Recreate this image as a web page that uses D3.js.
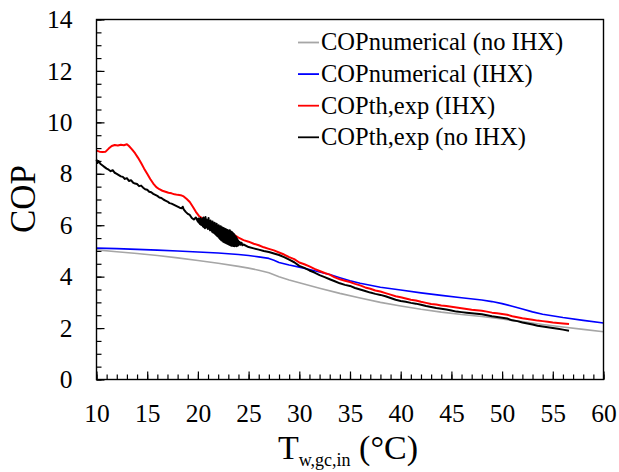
<!DOCTYPE html>
<html><head><meta charset="utf-8">
<script src="https://cdn.jsdelivr.net/npm/d3@7"></script>
<style>
html,body{margin:0;padding:0;background:#fff;}
</style></head>
<body>
<svg id="chart" width="619" height="472"></svg>
<script>
// ---- data ----
const xTickLabels = [10,15,20,25,30,35,40,45,50,55,60];
const yTickLabels = [0,2,4,6,8,10,12,14];
const seriesNames = ["COPnumerical (no IHX)","COPnumerical (IHX)","COPth,exp (IHX)","COPth,exp (no IHX)"];
const seriesColors = ["#a6a6a6","#0000ff","#ff0000","#000000"];

const numNoIHX = [[10,5.04],[12,4.97],[14,4.90],[16,4.82],[18,4.73],[20,4.63],[22,4.52],[24,4.40],[25,4.33],[26,4.25],[27,4.15],[28,4.00],[29,3.87],[30,3.76],[32,3.55],[34,3.35],[36,3.17],[38,3.00],[40,2.86],[42,2.73],[44,2.62],[46,2.53],[48,2.45],[50,2.35],[52,2.25],[54,2.14],[56,2.04],[58,1.95],[60,1.86]];

const numIHX = [[10,5.11],[12,5.09],[14,5.06],[16,5.03],[18,5.00],[20,4.96],[22,4.92],[24,4.86],[25,4.82],[26,4.77],[27,4.71],[27.5,4.64],[28,4.55],[29,4.45],[30,4.37],[31,4.28],[32,4.18],[33,4.08],[34,3.96],[35,3.84],[36,3.74],[38,3.59],[40,3.48],[42,3.37],[44,3.27],[46,3.18],[48,3.09],[49,3.03],[50,2.95],[51,2.85],[52,2.74],[53,2.63],[54,2.54],[56,2.41],[58,2.30],[60,2.20]];

const expIHX = [[10.0,8.90],[10.3,8.86],[10.6,8.85],[10.9,8.86],[11.2,8.98],[11.5,9.08],[11.8,9.12],[12.1,9.10],[12.4,9.13],[12.7,9.11],[13.0,9.15],[13.2,9.08],[13.5,8.95],[13.8,8.80],[14.1,8.62],[14.4,8.42],[14.7,8.20],[15.0,8.00],[15.3,7.80],[15.6,7.62],[15.9,7.48],[16.2,7.40],[16.5,7.34],[16.8,7.30],[17.1,7.26],[17.4,7.24],[17.7,7.20],[18.0,7.18],[18.3,7.17],[18.6,7.12],[18.9,7.02],[19.2,6.90],[19.5,6.72],[19.8,6.52],[20.1,6.36],[20.4,6.28],[20.7,6.20],[21.0,6.10],[21.5,6.00],[22.0,5.90],[22.5,5.80],[23.0,5.72],[23.5,5.64],[24.0,5.52],[24.5,5.42],[25.0,5.36],[25.5,5.28],[26.0,5.22],[26.5,5.14],[27.0,5.08],[27.5,5.02],[28.0,4.94],[28.5,4.86],[29.0,4.76],[29.5,4.68],[30.0,4.55],[30.5,4.48],[31.0,4.40],[31.5,4.30],[32.0,4.22],[32.5,4.14],[33.0,4.08],[33.5,3.97],[34.0,3.90],[34.5,3.84],[35.0,3.79],[35.5,3.72],[36.0,3.66],[36.5,3.58],[37.0,3.53],[37.5,3.46],[38.0,3.42],[38.5,3.36],[39.0,3.30],[39.5,3.24],[40.0,3.20],[40.5,3.15],[41.0,3.10],[41.5,3.07],[42.0,3.02],[42.5,2.98],[43.0,2.94],[43.5,2.92],[44.0,2.88],[44.5,2.86],[45.0,2.83],[45.5,2.80],[46.0,2.77],[46.5,2.74],[47.0,2.71],[47.5,2.69],[48.0,2.67],[48.5,2.64],[49.0,2.60],[49.5,2.58],[50.0,2.55],[50.5,2.52],[51.0,2.46],[51.5,2.42],[52.0,2.38],[52.5,2.35],[53.0,2.32],[53.5,2.29],[54.0,2.27],[54.5,2.25],[55.0,2.22],[55.5,2.20],[56.0,2.18],[56.6,2.16]];

const expNoIHX = [[10.0,8.55],[10.1,8.42],[10.2,8.50],[10.4,8.38],[10.6,8.32],[10.8,8.26],[11.0,8.20],[11.2,8.16],[11.4,8.10],[11.6,8.14],[11.8,8.04],[12.0,8.00],[12.2,7.95],[12.4,7.90],[12.6,7.88],[12.8,7.80],[13.0,7.83],[13.2,7.72],[13.4,7.75],[13.6,7.66],[13.8,7.62],[14.0,7.60],[14.2,7.52],[14.4,7.54],[14.6,7.46],[14.8,7.40],[15.0,7.38],[15.2,7.30],[15.4,7.28],[15.6,7.22],[15.8,7.18],[16.0,7.14],[16.2,7.08],[16.4,7.06],[16.6,7.00],[16.8,6.96],[17.0,6.92],[17.2,6.86],[17.4,6.84],[17.6,6.80],[17.8,6.76],[18.0,6.72],[18.2,6.68],[18.4,6.66],[18.5,6.72],[18.6,6.62],[18.8,6.52],[19.0,6.44],[19.2,6.40],[19.4,6.28],[19.6,6.22],[19.8,6.30],
[20.00,6.14],[20.05,6.26],[20.10,6.10],[20.15,6.24],[20.20,6.05],[20.25,6.28],[20.30,6.02],[20.35,6.20],[20.40,6.00],[20.45,6.25],[20.50,5.95],[20.55,6.30],[20.60,5.92],[20.65,6.18],[20.70,5.88],[20.75,6.32],[20.80,5.95],[20.85,6.22],[20.90,5.90],[20.95,6.15],[21.00,5.85],[21.05,6.28],[21.10,5.88],[21.15,6.12],[21.20,5.80],[21.25,6.18],[21.30,5.82],[21.35,6.08],[21.40,5.75],[21.45,6.14],[21.50,5.72],[21.55,6.05],[21.60,5.70],[21.65,6.10],[21.70,5.66],[21.75,6.02],[21.80,5.62],[21.85,6.06],[21.90,5.58],[21.95,5.98],[22.00,5.55],[22.05,6.00],[22.10,5.50],[22.15,5.95],[22.20,5.46],[22.25,5.96],[22.30,5.42],[22.35,5.92],[22.40,5.40],[22.45,5.90],[22.50,5.36],[22.55,5.88],[22.60,5.34],[22.65,5.86],[22.70,5.32],[22.75,5.84],[22.80,5.30],[22.85,5.82],[22.90,5.28],[22.95,5.80],[23.00,5.26],[23.05,5.78],[23.10,5.24],[23.15,5.80],[23.20,5.22],[23.25,5.76],[23.30,5.20],[23.35,5.74],[23.40,5.20],[23.45,5.70],[23.50,5.19],[23.55,5.66],[23.60,5.18],[23.65,5.60],[23.70,5.20],[23.75,5.55],[23.80,5.18],[23.85,5.48],[23.90,5.20],[23.95,5.42],[24.00,5.22],[24.10,5.36],[24.20,5.24],[24.30,5.32],[24.40,5.22],
[24.5,5.25],[25.0,5.15],[25.5,5.10],[26.0,5.05],[26.5,5.00],[27.0,4.96],[27.5,4.90],[28.0,4.84],[28.5,4.76],[29.0,4.66],[29.5,4.56],[30.0,4.42],[30.5,4.34],[31.0,4.24],[31.5,4.16],[32.0,4.06],[32.5,3.98],[33.0,3.90],[33.5,3.82],[34.0,3.74],[34.5,3.68],[35.0,3.64],[35.5,3.56],[36.0,3.50],[36.5,3.44],[37.0,3.38],[37.5,3.33],[38.0,3.29],[38.5,3.24],[39.0,3.17],[39.5,3.10],[40.0,3.05],[40.5,3.02],[41.0,2.98],[41.5,2.95],[42.0,2.91],[42.5,2.86],[43.0,2.82],[43.5,2.78],[44.0,2.75],[44.5,2.72],[45.0,2.68],[45.5,2.64],[46.0,2.62],[46.5,2.60],[47.0,2.58],[47.5,2.56],[48.0,2.54],[48.5,2.50],[49.0,2.46],[49.5,2.43],[50.0,2.40],[50.5,2.37],[51.0,2.30],[51.5,2.27],[52.0,2.22],[52.5,2.18],[53.0,2.14],[53.5,2.09],[54.0,2.06],[54.5,2.03],[55.0,2.00],[55.5,1.97],[56.0,1.94],[56.6,1.90]];

// ---- layout ----
const FONT = "'Liberation Serif','Times New Roman',Times,'Nimbus Roman','DejaVu Serif','Noto Serif',serif";
const svg = d3.select("#chart").style("font-family",FONT);
const L = 96.5, R = 603.5, T = 19.5, B = 379.5;
const x = d3.scaleLinear().domain([10,60]).range([L,R]);
const y = d3.scaleLinear().domain([0,14]).range([B,T]);

function styleAxis(g, fs){
  g.attr("font-family",null);
  g.select(".domain").remove();
  g.selectAll("line").attr("stroke","#000").attr("stroke-width",1.2);
  g.selectAll("text").attr("fill","#000").style("font-family",FONT).style("font-size",fs+"px");
}

// minor ticks
svg.append("g").attr("transform",`translate(0,${B})`)
  .call(d3.axisBottom(x).tickValues(d3.range(10,61,1)).tickSize(-5).tickFormat(""))
  .call(g=>styleAxis(g,25));
svg.append("g").attr("transform",`translate(${L},0)`)
  .call(d3.axisLeft(y).tickValues(d3.range(0,14.01,0.5)).tickSize(-5).tickFormat(""))
  .call(g=>styleAxis(g,25));

// major ticks + labels
svg.append("g").attr("transform",`translate(0,${B})`)
  .call(d3.axisBottom(x).tickValues(xTickLabels).tickSize(-8).tickPadding(24))
  .call(g=>styleAxis(g,25.5));
svg.append("g").attr("transform",`translate(${L},0)`)
  .call(d3.axisLeft(y).tickValues(yTickLabels).tickSize(-8).tickPadding(24))
  .call(g=>styleAxis(g,25.5));

// lines
const line = d3.line().x(d=>x(d[0])).y(d=>y(d[1]));
const allSeries = [numNoIHX, numIHX, expIHX, expNoIHX];
const widths = [1.6,1.6,2.0,2.0];
allSeries.forEach((s,i)=>{
  svg.append("path").datum(s).attr("d",line).attr("fill","none")
    .attr("stroke",seriesColors[i]).attr("stroke-width",widths[i]).attr("stroke-linejoin","round");
});

// frame
svg.append("rect").attr("x",L).attr("y",T).attr("width",R-L).attr("height",B-T)
  .attr("fill","none").attr("stroke","#000").attr("stroke-width",1.4);

// legend
const lg = svg.append("g");
seriesNames.forEach((n,i)=>{
  const ly = 42.5 + i*31.6;
  lg.append("line").attr("x1",298).attr("x2",319).attr("y1",ly).attr("y2",ly)
    .attr("stroke",seriesColors[i]).attr("stroke-width",1.8);
  lg.append("text").attr("x",321).attr("y",ly+7.8).style("font-size","24.5px").attr("fill","#000").text(n);
});

// axis titles
svg.append("text").attr("transform","translate(35,199) rotate(-90)")
  .attr("text-anchor","middle").style("font-size","35px").text("COP");
const xt = svg.append("text").attr("x",348).attr("y",459).attr("text-anchor","middle").style("font-size","34px");
xt.append("tspan").text("T");
xt.append("tspan").style("font-size","18px").attr("dy",7).text("w,gc,in");
xt.append("tspan").attr("dy",-7).text(" (°C)");
</script>
</body></html>
